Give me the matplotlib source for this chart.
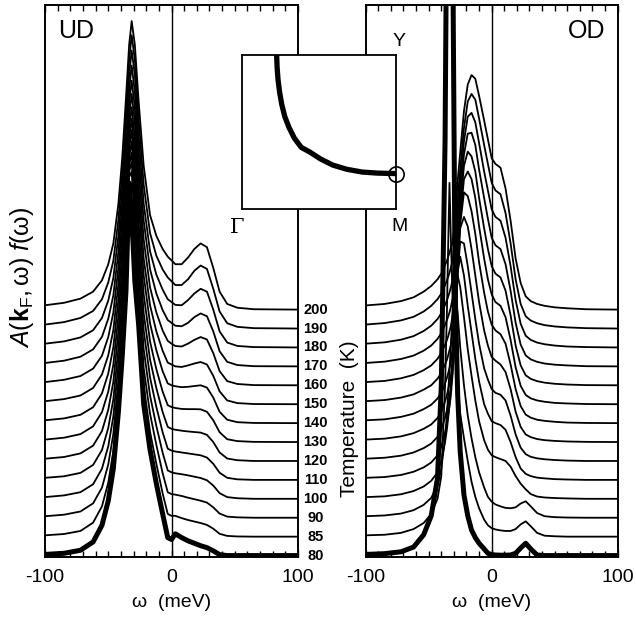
import matplotlib
matplotlib.use("Agg")
import matplotlib.pyplot as plt
import matplotlib.transforms as mtrans
from matplotlib.ticker import MultipleLocator

plt.rcParams['font.family'] = ['Liberation Sans', 'DejaVu Sans']
plt.rcParams['mathtext.fontset'] = 'custom'
plt.rcParams['mathtext.rm'] = 'Liberation Sans'
plt.rcParams['mathtext.it'] = 'Liberation Sans:italic'
plt.rcParams['mathtext.bf'] = 'Liberation Sans:bold'

temps = [80, 85, 90, 100, 110, 120, 130, 140, 150, 160, 170, 180, 190, 200]

# --- underdoped: omega grid (meV) and A f for each temperature (offset removed)
w_ud = [-100, -85, -72, -62, -55, -50, -46, -42, -39, -36, -33.5, -31.5, -29, -26, -22, -17,
        -12, -7, -3, 0, 3, 8, 13, 18, 23, 28, 33, 38, 44, 52, 65, 100]
ud = {
    80:  [.06, .12, .28, .72, 1.60, 2.90, 4.60, 7.60, 10.5, 14.0, 19.7, 18.0, 14.5, 12.2, 8.0, 5.60,
          3.80, 2.20, 0.95, 0.85, 1.15, 0.95, 0.78, 0.65, 0.52, 0.42, 0.25, 0.05, 0, 0, 0, 0],
    85:  [.07, .14, .30, .74, 1.60, 2.86, 4.52, 7.45, 10.3, 13.8, 19.0, 19.3, 16.5, 12.1, 8.0, 5.55,
          3.85, 2.28, 1.20, 1.10, 1.10, 0.98, 0.88, 0.80, 0.72, 0.62, 0.42, 0.15, .04, .01, 0, 0],
    90:  [.08, .16, .33, .76, 1.59, 2.82, 4.43, 7.29, 10.1, 13.6, 18.3, 18.8, 16.3, 12.0, 7.9, 5.50,
          3.85, 2.35, 1.35, 1.25, 1.22, 1.15, 1.06, 0.98, 0.90, 0.80, 0.55, 0.22, .06, .02, 0, 0],
    100: [.09, .18, .35, .77, 1.59, 2.78, 4.35, 7.14, 9.9, 13.4, 17.6, 18.3, 16.0, 11.9, 7.9, 5.46,
          3.85, 2.43, 1.50, 1.40, 1.35, 1.30, 1.24, 1.17, 1.10, 0.98, 0.70, 0.30, .09, .03, 0, 0],
    110: [.11, .19, .37, .79, 1.58, 2.75, 4.26, 6.98, 9.7, 13.1, 17.0, 17.9, 15.8, 11.8, 7.9, 5.42,
          3.85, 2.51, 1.65, 1.55, 1.50, 1.45, 1.40, 1.35, 1.30, 1.18, 0.85, 0.38, .11, .03, 0, 0],
    120: [.12, .21, .40, .81, 1.58, 2.71, 4.18, 6.83, 9.5, 12.9, 16.5, 17.5, 15.6, 11.7, 7.8, 5.37,
          3.85, 2.58, 1.80, 1.70, 1.65, 1.60, 1.56, 1.53, 1.50, 1.38, 1.00, 0.45, .13, .04, 0, 0],
    130: [.13, .23, .42, .83, 1.58, 2.67, 4.09, 6.68, 9.3, 12.7, 16.0, 17.1, 15.3, 11.6, 7.8, 5.32,
          3.85, 2.66, 1.95, 1.85, 1.80, 1.75, 1.74, 1.74, 1.73, 1.60, 1.15, 0.52, .15, .05, .01, 0],
    140: [.15, .25, .44, .84, 1.57, 2.63, 4.01, 6.52, 9.2, 12.5, 15.6, 16.7, 15.1, 11.6, 7.8, 5.28,
          3.85, 2.74, 2.10, 2.00, 1.95, 1.90, 1.92, 1.96, 2.00, 1.88, 1.35, 0.60, .18, .05, .01, 0],
    150: [.16, .27, .46, .86, 1.57, 2.59, 3.92, 6.37, 9.0, 12.3, 15.2, 16.4, 14.9, 11.5, 7.7, 5.23,
          3.85, 2.82, 2.20, 2.10, 2.00, 1.97, 2.05, 2.15, 2.23, 2.10, 1.50, 0.68, .20, .06, .01, 0],
    160: [.17, .29, .49, .88, 1.56, 2.55, 3.84, 6.22, 8.8, 12.1, 14.9, 16.1, 14.7, 11.4, 7.7, 5.18,
          3.85, 2.89, 2.35, 2.20, 2.08, 2.05, 2.20, 2.40, 2.55, 2.42, 1.70, 0.75, .22, .07, .01, 0],
    170: [.18, .30, .51, .90, 1.56, 2.52, 3.75, 6.06, 8.6, 11.8, 14.6, 15.9, 14.5, 11.3, 7.7, 5.14,
          3.85, 2.97, 2.45, 2.30, 2.15, 2.12, 2.30, 2.60, 2.80, 2.65, 1.85, 0.80, .24, .07, .01, 0],
    180: [.20, .32, .53, .91, 1.56, 2.48, 3.67, 5.91, 8.4, 11.6, 14.4, 15.7, 14.4, 11.2, 7.6, 5.09,
          3.85, 3.05, 2.55, 2.40, 2.25, 2.23, 2.50, 2.85, 3.10, 2.95, 2.00, 0.85, .26, .08, .02, 0],
    190: [.21, .34, .56, .93, 1.55, 2.44, 3.58, 5.75, 8.2, 11.4, 14.2, 15.5, 14.2, 11.1, 7.6, 5.05,
          3.85, 3.12, 2.70, 2.50, 2.30, 2.30, 2.60, 3.05, 3.33, 3.15, 2.10, 0.90, .28, .09, .02, 0],
    200: [.23, .36, .58, .95, 1.55, 2.40, 3.50, 5.60, 8.0, 11.2, 14.0, 15.25, 14.0, 11.0, 7.6, 5.00,
          3.90, 3.20, 2.80, 2.60, 2.40, 2.40, 2.75, 3.20, 3.50, 3.30, 2.20, 0.95, .30, .10, .02, 0],
}

# --- overdoped
w_od = [-100, -85, -72, -62, -54, -48, -43, -40, -37, -35.5, -34.5, -33.5, -32.5, -31, -29, -27,
        -25, -22, -19, -16, -13, -10, -6, -3, 0, 3, 7, 11, 15, 19, 23, 27, 31, 36, 42, 50, 60, 75, 100]
od = {
    80:  [.06, .10, .20, .45, 1.10, 2.10, 4.10, 9.0, 22, 36, 50, 60, 50, 33, 14, 8.5,
          5.5, 3.2, 2.1, 1.35, .95, .65, .35, .12, .05, .03, .02, .02, .03, .12, .40, .65, .35, .03, 0, 0, 0, 0, 0],
    85:  [.07, .10, .20, .40, .72, 1.20, 2.00, 3.2, 8.0, 12, 15.5, 18.7, 16, 12.5, 9.5, 7.8,
          6.5, 5.2, 4.0, 2.9, 2.1, 1.5, .90, .60, .45, .38, .33, .30, .30, .40, .65, .81, .55, .20, .05, .02, 0, 0, 0],
    90:  [.08, .12, .22, .40, .68, 1.05, 1.70, 2.6, 4.2, 5.5, 6.6, 7.8, 9.0, 11.0, 12.0, 10.8,
          9.0, 7.0, 5.4, 4.2, 3.2, 2.4, 1.6, 1.1, .85, .70, .60, .52, .50, .55, .75, .87, .60, .25, .08, .03, .01, 0, 0],
    100: [.09, .13, .24, .41, .65, .95, 1.40, 2.0, 3.0, 3.7, 4.3, 5.0, 5.8, 7.5, 10.5, 11.8,
          11.2, 9.6, 7.9, 6.5, 5.2, 4.1, 3.1, 2.6, 2.3, 2.2, 2.1, 2.0, 1.7, 1.2, .80, .50, .25, .12, .07, .04, .02, 0, 0],
    110: [.11, .15, .26, .43, .66, .92, 1.30, 1.75, 2.5, 3.0, 3.45, 3.9, 4.4, 5.6, 8.2, 11.0,
          11.8, 10.8, 9.2, 7.8, 6.4, 5.2, 4.0, 3.5, 3.1, 3.0, 2.9, 2.65, 2.0, 1.2, .60, .32, .20, .12, .08, .04, .02, 0, 0],
    120: [.12, .17, .28, .45, .68, .92, 1.27, 1.65, 2.3, 2.7, 3.05, 3.4, 3.8, 4.8, 7.0, 9.9,
          11.6, 11.5, 10.3, 8.9, 7.5, 6.2, 4.9, 4.3, 3.8, 3.6, 3.5, 3.2, 2.4, 1.4, .70, .36, .22, .14, .09, .05, .02, 0, 0],
    130: [.13, .18, .30, .47, .70, .93, 1.27, 1.60, 2.15, 2.5, 2.8, 3.1, 3.4, 4.3, 6.3, 9.1,
          11.3, 11.9, 11.4, 10.2, 8.8, 7.4, 5.9, 5.1, 4.5, 4.3, 4.1, 3.7, 2.8, 1.6, .80, .40, .26, .16, .10, .06, .03, .01, 0],
    140: [.15, .20, .33, .50, .74, .97, 1.30, 1.60, 2.10, 2.4, 2.65, 2.9, 3.2, 4.0, 5.8, 8.4,
          10.5, 12.2, 12.0, 11.2, 10.0, 8.5, 6.9, 5.9, 5.2, 4.9, 4.7, 4.2, 3.1, 1.8, .90, .45, .29, .18, .12, .07, .03, .01, 0],
    150: [.16, .22, .35, .52, .77, 1.00, 1.35, 1.65, 2.10, 2.35, 2.6, 2.85, 3.1, 3.8, 5.4, 7.8,
          9.8, 11.9, 12.3, 11.9, 10.9, 9.4, 7.7, 6.6, 5.8, 5.4, 5.2, 4.6, 3.4, 1.95, .97, .49, .31, .20, .13, .07, .04, .01, 0],
    160: [.17, .23, .37, .55, .80, 1.05, 1.40, 1.70, 2.15, 2.4, 2.6, 2.85, 3.1, 3.7, 5.2, 7.5,
          9.4, 11.6, 12.35, 12.1, 11.3, 9.9, 8.3, 7.2, 6.3, 5.9, 5.7, 5.0, 3.7, 2.1, 1.05, .53, .34, .22, .14, .08, .04, .01, 0],
    170: [.18, .25, .39, .57, .83, 1.10, 1.45, 1.75, 2.20, 2.45, 2.65, 2.85, 3.1, 3.6, 5.0, 7.2,
          9.0, 11.2, 12.3, 12.35, 11.7, 10.4, 8.9, 7.8, 6.8, 6.4, 6.2, 5.4, 4.0, 2.3, 1.15, .58, .37, .24, .15, .09, .05, .01, 0],
    180: [.20, .27, .41, .60, .87, 1.15, 1.50, 1.80, 2.25, 2.5, 2.7, 2.9, 3.15, 3.6, 4.9, 7.0,
          8.7, 10.9, 12.2, 12.4, 11.9, 10.8, 9.3, 8.3, 7.3, 6.9, 6.7, 5.8, 4.3, 2.5, 1.25, .62, .40, .26, .17, .10, .05, .02, 0],
    190: [.21, .29, .43, .62, .90, 1.20, 1.55, 1.85, 2.30, 2.55, 2.75, 2.95, 3.2, 3.6, 4.8, 6.8,
          8.4, 10.6, 12.0, 12.4, 12.1, 11.1, 9.7, 8.7, 7.7, 7.3, 7.1, 6.1, 4.5, 2.6, 1.3, .65, .42, .28, .18, .11, .06, .02, 0],
    200: [.22, .30, .45, .65, .95, 1.25, 1.60, 1.90, 2.35, 2.6, 2.8, 3.0, 3.25, 3.6, 4.8, 6.8,
          8.3, 10.5, 11.9, 12.4, 12.2, 11.3, 10.0, 9.0, 8.0, 7.7, 7.5, 6.4, 4.7, 2.7, 1.4, .70, .45, .30, .20, .12, .07, .02, 0],
}

# inset: Fermi surface quadrant (Gamma at lower left, M lower right, Y upper right)
fs_x = [0.225, 0.228, 0.234, 0.244, 0.258, 0.278, 0.305, 0.34, 0.385, 0.44, 0.51, 0.59, 0.68, 0.78, 0.88, 1.0]
fs_y = [1.0, 0.92, 0.84, 0.76, 0.68, 0.60, 0.53, 0.46, 0.40, 0.37, 0.325, 0.285, 0.258, 0.24, 0.233, 0.23]

fig = plt.figure(figsize=(6.36, 6.2), dpi=100)
ax1 = fig.add_axes([0.0708, 0.1024, 0.3978, 0.8895])
ax2 = fig.add_axes([0.5750, 0.1024, 0.3962, 0.8895])

for ax, w, data, tag, tx in [(ax1, w_ud, ud, 'UD', 0.05), (ax2, w_od, od, 'OD', 0.95)]:
    for k, T in enumerate(temps):
        if T == 80:
            continue
        ax.plot(w, [v + k for v in data[T]], color='k', lw=1.3)
    ax.plot(w, data[80], color='k', lw=3.6, solid_capstyle='butt')
    ax.axvline(0, color='k', lw=1.0)
    ax.set_xlim(-100, 100)
    ax.set_ylim(-0.05, 29.1)
    ax.set_xticks([-100, 0, 100])
    ax.set_xticklabels(['-100', '0', '100'])
    ax.xaxis.set_minor_locator(MultipleLocator(10))
    ax.set_yticks([])
    ax.tick_params(which='both', direction='in', top=True, bottom=True, left=False, right=False,
                   width=1.0, labelsize=14, pad=9)
    ax.tick_params(which='major', length=5)
    ax.tick_params(which='minor', length=4)
    for s in ax.spines.values():
        s.set_linewidth(1.4)
    ax.set_xlabel('ω  (meV)', fontsize=14, labelpad=6)
    ax.text(tx, 0.975, tag, transform=ax.transAxes, fontsize=18,
            ha='left' if tx < 0.5 else 'right', va='top')

fig.text(0.035, 0.552, r'$A(\mathbf{k}_{\mathrm{F}},\mathrm{\omega})\ f(\mathrm{\omega})$', rotation=90,
         fontsize=18, ha='center', va='center')

# temperature labels between panels, at each curve's baseline
tr = mtrans.blended_transform_factory(fig.transFigure, ax1.transData)
for k, T in enumerate(temps):
    ax1.text(0.496, k, str(T), transform=tr, fontsize=10.5, fontweight='bold',
             ha='center', va='center', clip_on=False)
fig.text(0.550, 0.325, 'Temperature  (K)', rotation=90, fontsize=15, ha='center', va='center')

# inset
axi = fig.add_axes([0.3805, 0.6629, 0.2421, 0.2484])
axi.plot(fs_x, fs_y, color='k', lw=3.8, solid_capstyle='butt')
axi.plot([fs_x[-1]], [fs_y[-1]], 'o', ms=11, mfc='none', mec='k', mew=1.2, clip_on=False)
axi.set_xlim(0, 1)
axi.set_ylim(0, 1)
axi.set_xticks([])
axi.set_yticks([])
for s in axi.spines.values():
    s.set_linewidth(1.3)
axi.text(-0.03, -0.06, 'Γ', transform=axi.transAxes, fontsize=15, ha='center', va='top',
         family='DejaVu Serif')
axi.text(1.02, -0.06, 'M', transform=axi.transAxes, fontsize=14, ha='center', va='top')
axi.text(1.02, 1.03, 'Y', transform=axi.transAxes, fontsize=14, ha='center', va='bottom')

fig.savefig('out.png', dpi=100)
